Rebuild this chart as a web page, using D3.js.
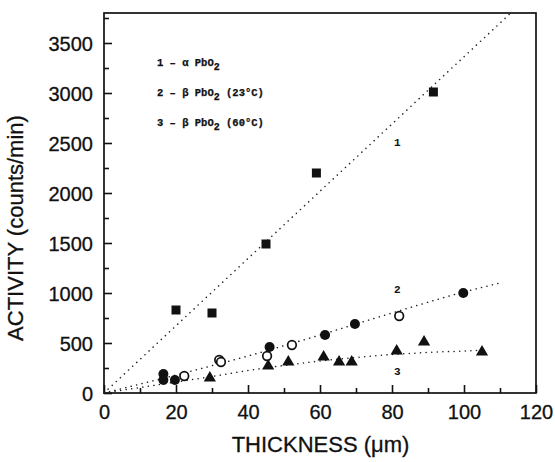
<!DOCTYPE html>
<html>
<head>
<meta charset="utf-8">
<script src="https://cdn.jsdelivr.net/npm/d3@7"></script>
<style>
  body { margin: 0; background: #fff; }
  .tick text { font-family: Arial, "Liberation Sans", sans-serif; }
</style>
</head>
<body>
<div id="chart"></div>
<script>
// data
const alphaPts = [[20, 830], [30, 800], [45, 1490], [59, 2200], [91.5, 3010]];
const beta23Filled = [[16.5, 190], [16.5, 130], [19.7, 130], [46, 460], [61.4, 580], [69.7, 690], [99.8, 1000]];
const beta23Open = [[22.3, 170], [32, 330], [32.5, 310], [45.3, 370], [52.2, 480], [82, 770]];
const beta60Pts = [[29.4, 140], [45.6, 260], [51.2, 300], [61, 350], [65.3, 300], [68.8, 300], [81.3, 410], [88.9, 500], [105, 400]];

// fitted curves
const fit1 = [[0, 0], [113, 3800]];
const fit2 = [[0, 0], [20, 180], [40, 370], [60, 580], [80, 800], [100, 1010], [110, 1100]];
const fit3 = [[0, 0], [10, 55], [20, 110], [30, 165], [40, 225], [50, 275], [60, 320], [70, 355], [80, 385], [90, 405], [100, 420], [106, 428]];

const xTicks = [0, 20, 40, 60, 80, 100, 120];
const yTicks = [0, 500, 1000, 1500, 2000, 2500, 3000, 3500];

const curveLabels = [{t: "1", x: 81.5, y: 2470}, {t: "2", x: 81.5, y: 1000}, {t: "3", x: 81.5, y: 180}];
const legendRows = [
  {num: "1", sym: "α", rest: ""},
  {num: "2", sym: "β", rest: " (23°C)"},
  {num: "3", sym: "β", rest: " (60°C)"}
];

const W = 555, H = 462;
const margin = {top: 13, right: 19, bottom: 69, left: 104};
const width = W - margin.left - margin.right;
const height = H - margin.top - margin.bottom;

const svg = d3.select("#chart").append("svg")
    .attr("width", W)
    .attr("height", H)
    .append("g")
    .attr("transform", "translate(" + margin.left + "," + margin.top + ")");

const x = d3.scaleLinear().domain([0, 120]).range([0, width]);
const y = d3.scaleLinear().domain([0, 3800]).range([height, 0]);

// frame
svg.append("rect")
    .attr("width", width).attr("height", height)
    .attr("fill", "none").attr("stroke", "#111").attr("stroke-width", 1.7);

// axes - ticks inside
const xAxis = svg.append("g").attr("transform", "translate(0," + height + ")")
    .call(d3.axisBottom(x).tickValues(xTicks).tickSize(-8).tickPadding(12).tickFormat(d3.format("d")));
const xMinor = svg.append("g").attr("transform", "translate(0," + height + ")")
    .call(d3.axisBottom(x).tickValues(d3.range(10, 120, 20)).tickSize(-5).tickFormat(""));
const yAxis = svg.append("g")
    .call(d3.axisLeft(y).tickValues(yTicks).tickSize(-8).tickPadding(11).tickFormat(d3.format("d")));
const yMinor = svg.append("g")
    .call(d3.axisLeft(y).tickValues(d3.range(250, 3800, 500)).tickSize(-5).tickFormat(""));

[xAxis, xMinor, yAxis, yMinor].forEach(g => {
  g.select(".domain").remove();
  g.selectAll(".tick line").attr("stroke", "#111").attr("stroke-width", 1.6);
});
xAxis.selectAll("text").attr("font-size", 20).attr("fill", "#111")
    .attr("stroke", "#111").attr("stroke-width", 0.3);
yAxis.selectAll("text").attr("font-size", 20).attr("fill", "#111").attr("dy", "0.35em")
    .attr("stroke", "#111").attr("stroke-width", 0.3);

// axis titles
svg.append("text")
    .attr("x", 320.5 - margin.left).attr("y", 452 - margin.top)
    .attr("text-anchor", "middle")
    .attr("font-family", "Arial, 'Liberation Sans', sans-serif")
    .attr("font-size", 22).attr("fill", "#111")
    .attr("stroke", "#111").attr("stroke-width", 0.3)
    .text("THICKNESS (μm)");
svg.append("text")
    .attr("transform", "translate(" + (-81) + "," + (228 - margin.top) + ") rotate(-90)")
    .attr("text-anchor", "middle")
    .attr("font-family", "Arial, 'Liberation Sans', sans-serif")
    .attr("font-size", 22).attr("fill", "#111")
    .attr("stroke", "#111").attr("stroke-width", 0.3)
    .text("ACTIVITY (counts/min)");

// fit lines
const line = d3.line().x(d => x(d[0])).y(d => y(d[1])).curve(d3.curveMonotoneX);
[fit1, fit2, fit3].forEach(f => {
  svg.append("path").datum(f)
      .attr("d", line)
      .attr("fill", "none").attr("stroke", "#222")
      .attr("stroke-width", 1.5)
      .attr("stroke-linecap", "round")
      .attr("stroke-dasharray", "0.1,5.5");
});

// markers
svg.append("g").selectAll("rect").data(alphaPts).join("rect")
    .attr("x", d => x(d[0]) - 4.5).attr("y", d => y(d[1]) - 4.5)
    .attr("width", 9).attr("height", 9).attr("fill", "#111");

svg.append("g").selectAll("circle").data(beta23Filled).join("circle")
    .attr("cx", d => x(d[0])).attr("cy", d => y(d[1])).attr("r", 5).attr("fill", "#111");

svg.append("g").selectAll("circle").data(beta23Open).join("circle")
    .attr("cx", d => x(d[0])).attr("cy", d => y(d[1])).attr("r", 4.3)
    .attr("fill", "#fff").attr("stroke", "#111").attr("stroke-width", 1.7);

const tri = d3.symbol().type(d3.symbolTriangle).size(65);
svg.append("g").selectAll("path").data(beta60Pts).join("path")
    .attr("transform", d => "translate(" + x(d[0]) + "," + (y(d[1]) - 1) + ")")
    .attr("d", tri).attr("fill", "#111");

// curve labels
svg.append("g").selectAll("text").data(curveLabels).join("text")
    .attr("x", d => x(d.x)).attr("y", d => y(d.y))
    .attr("text-anchor", "middle")
    .attr("font-family", "'Liberation Mono', monospace")
    .attr("font-weight", "bold").attr("font-size", 11).attr("fill", "#111")
    .text(d => d.t);

// legend
const leg = svg.append("g").attr("transform", "translate(" + (157 - margin.left) + ",0)");
legendRows.forEach((r, i) => {
  const t = leg.append("text")
      .attr("x", 0).attr("y", 66 - margin.top + i * 30)
      .attr("font-family", "'Liberation Mono', 'Courier New', monospace")
      .attr("font-weight", "bold").attr("font-size", 10.5).attr("fill", "#111")
      .attr("stroke", "#111").attr("stroke-width", 0.25);
  t.append("tspan").text(r.num + " – " + r.sym + " PbO");
  t.append("tspan").attr("dy", 4).attr("font-size", 10).text("2");
  t.append("tspan").attr("dy", -4).text(r.rest);
});
</script>
</body>
</html>
